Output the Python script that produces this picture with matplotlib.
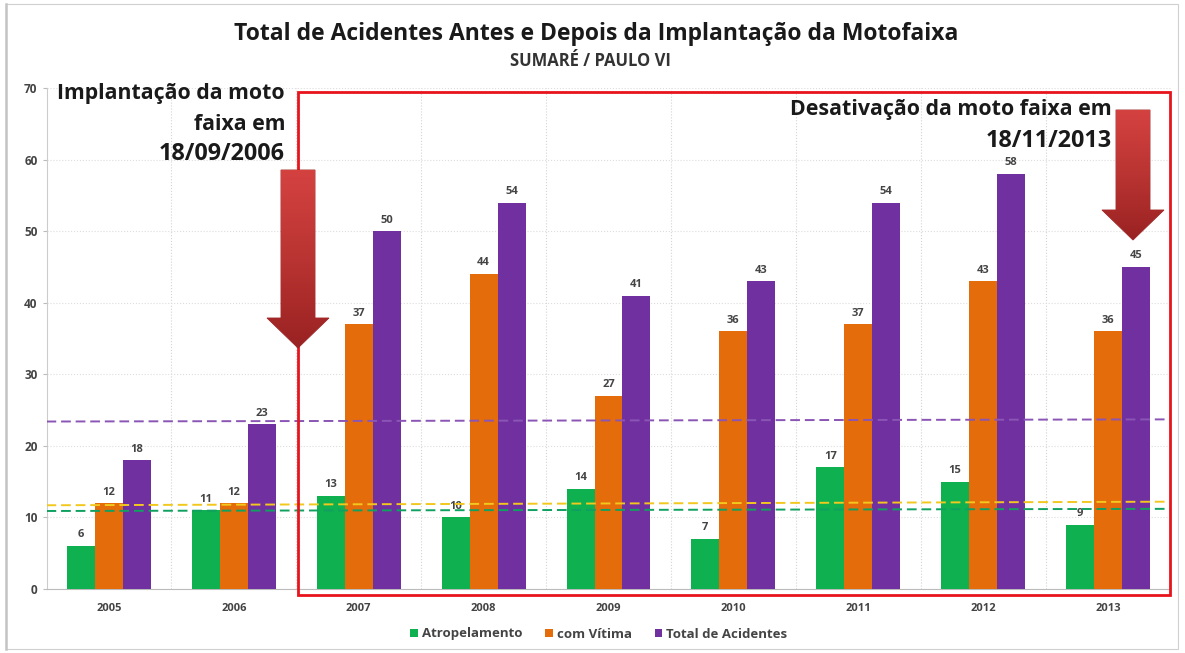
import numpy as np
import matplotlib
matplotlib.use('Agg')
import matplotlib.pyplot as plt
from matplotlib.colors import LinearSegmentedColormap
from matplotlib.patches import Polygon, Rectangle

years = ['2005', '2006', '2007', '2008', '2009', '2010', '2011', '2012', '2013']
atropelamento = [6, 11, 13, 10, 14, 7, 17, 15, 9]
com_vitima = [12, 12, 37, 44, 27, 36, 37, 43, 36]
total = [18, 23, 50, 54, 41, 43, 54, 58, 45]
# linhas de media, levemente inclinadas na imagem (inicio, fim)
media_total = [23.4, 23.7]
media_vitima = [11.7, 12.2]
media_atrop = [10.9, 11.2]

plt.rcParams['font.family'] = ['Open Sans', 'DejaVu Sans']

W, H = 1185, 653
fig = plt.figure(figsize=(W / 100, H / 100), dpi=100)
ax = fig.add_axes([46.5 / W, 1 - 589 / H, (1170.5 - 46.5) / W, (589 - 88) / H])

x = np.arange(len(years))
w = 0.224
green, orange, purple = '#0fb04f', '#e46c0a', '#7030a0'
ax.bar(x - w, atropelamento, w, color=green, label='Atropelamento', zorder=3)
ax.bar(x, com_vitima, w, color=orange, label='com Vítima', zorder=3)
ax.bar(x + w, total, w, color=purple, label='Total de Acidentes', zorder=3)

for i in range(len(years)):
    ax.text(x[i] - w, atropelamento[i] + 1.2, str(atropelamento[i]), ha='center', fontsize=8, fontweight='bold', color='#444444', zorder=4)
    ax.text(x[i], com_vitima[i] + 1.2, str(com_vitima[i]), ha='center', fontsize=8, fontweight='bold', color='#444444', zorder=4)
    ax.text(x[i] + w, total[i] + 1.2, str(total[i]), ha='center', fontsize=8, fontweight='bold', color='#444444', zorder=4)

ax.set_xlim(-0.5, 8.5)
ax.set_ylim(0, 70)
ax.set_xticks(x, years, fontsize=8, fontweight='bold', color='#444444')
ax.set_yticks(range(0, 71, 10))
ax.tick_params(axis='y', labelsize=8.5, length=3, color='#bbbbbb', labelcolor='#444444')
ax.tick_params(axis='x', length=0, pad=10)
for lab in ax.get_yticklabels():
    lab.set_fontweight('bold')
ax.set_xticks(np.arange(0.5, 8.5, 1), minor=True)
ax.tick_params(axis='x', which='minor', length=0)
ax.grid(True, which='minor', axis='x', color='#d4d4d4', lw=0.8, ls=':')
ax.grid(True, which='major', axis='y', color='#dddddd', lw=0.8, ls=':')
for s in ['top', 'right']:
    ax.spines[s].set_visible(False)
ax.spines['left'].set_color('#cccccc')
ax.spines['bottom'].set_color('#bbbbbb')

# linhas de media
ax.plot([-0.5, 8.5], media_total, color='#8a55b5', lw=1.4, dashes=(5, 2.5), zorder=5)
ax.plot([-0.5, 8.5], media_vitima, color='#f2c81e', lw=1.4, dashes=(5, 2.5), zorder=5)
ax.plot([-0.5, 8.5], media_atrop, color='#10a060', lw=1.4, dashes=(5, 2.5), zorder=5)

fig.text(596 / W, 1 - 34 / H, 'Total de Acidentes Antes e Depois da Implantação da Motofaixa',
         ha='center', va='center', fontsize=16.5, fontweight='bold', color='#1a1a1a')
fig.text(590 / W, 1 - 61 / H, 'SUMARÉ / PAULO VI', ha='center', va='center',
         fontsize=12, fontweight='bold', color='#333333')

fig.text(285 / W, 1 - 94 / H, 'Implantação da moto', ha='right', va='center', fontsize=15.3, fontweight='bold', color='#1a1a1a')
fig.text(285 / W, 1 - 124 / H, 'faixa em', ha='right', va='center', fontsize=15.3, fontweight='bold', color='#1a1a1a')
fig.text(285 / W, 1 - 154 / H, '18/09/2006', ha='right', va='center', fontsize=16.8, fontweight='bold', color='#1a1a1a')
fig.text(1112 / W, 1 - 110 / H, 'Desativação da moto faixa em', ha='right', va='center', fontsize=15.4, fontweight='bold', color='#1a1a1a')
fig.text(1112 / W, 1 - 141 / H, '18/11/2013', ha='right', va='center', fontsize=16.8, fontweight='bold', color='#1a1a1a')

# moldura vermelha e setas em coordenadas de pixel
overlay = fig.add_axes([0, 0, 1, 1], facecolor='none')
overlay.set_xlim(0, W)
overlay.set_ylim(H, 0)
overlay.axis('off')
overlay.add_patch(Rectangle((298, 92), 872, 503, fill=False, ec='#e8141c', lw=2))
overlay.add_patch(Rectangle((6, 4), 1172, 645, fill=False, ec='#d0d0d0', lw=0.8))
overlay.plot([6, 6], [4, 649], color='#c4c4c4', lw=1.8)

cmap = LinearSegmentedColormap.from_list('seta', ['#d44240', '#b93432', '#9a2222'])
grad = np.linspace(0, 1, 100).reshape(-1, 1)
for cx, y0, y1, yh in [(298, 170, 348, 318), (1133, 110, 240, 210)]:
    pts = [(cx - 17, y0), (cx + 17, y0), (cx + 17, yh), (cx + 31, yh), (cx, y1),
           (cx - 31, yh), (cx - 17, yh)]
    arrow = Polygon(pts, closed=True, fc='none', ec='#9a2020', lw=0.6)
    overlay.add_patch(arrow)
    im = overlay.imshow(grad, cmap=cmap, extent=(cx - 31, cx + 31, y1, y0), aspect='auto', zorder=1)
    im.set_clip_path(arrow)
overlay.set_xlim(0, W)
overlay.set_ylim(H, 0)

handles, labels = ax.get_legend_handles_labels()
leg = fig.legend(handles, labels, loc='center', bbox_to_anchor=(599 / W, 1 - 634 / H), ncol=3, frameon=False,
                 fontsize=9.5, handlelength=0.6, handleheight=0.6, columnspacing=1.7, handletextpad=0.3)
for t in leg.get_texts():
    t.set_fontweight('bold')
    t.set_color('#444444')

fig.savefig('out.png', dpi=100)
